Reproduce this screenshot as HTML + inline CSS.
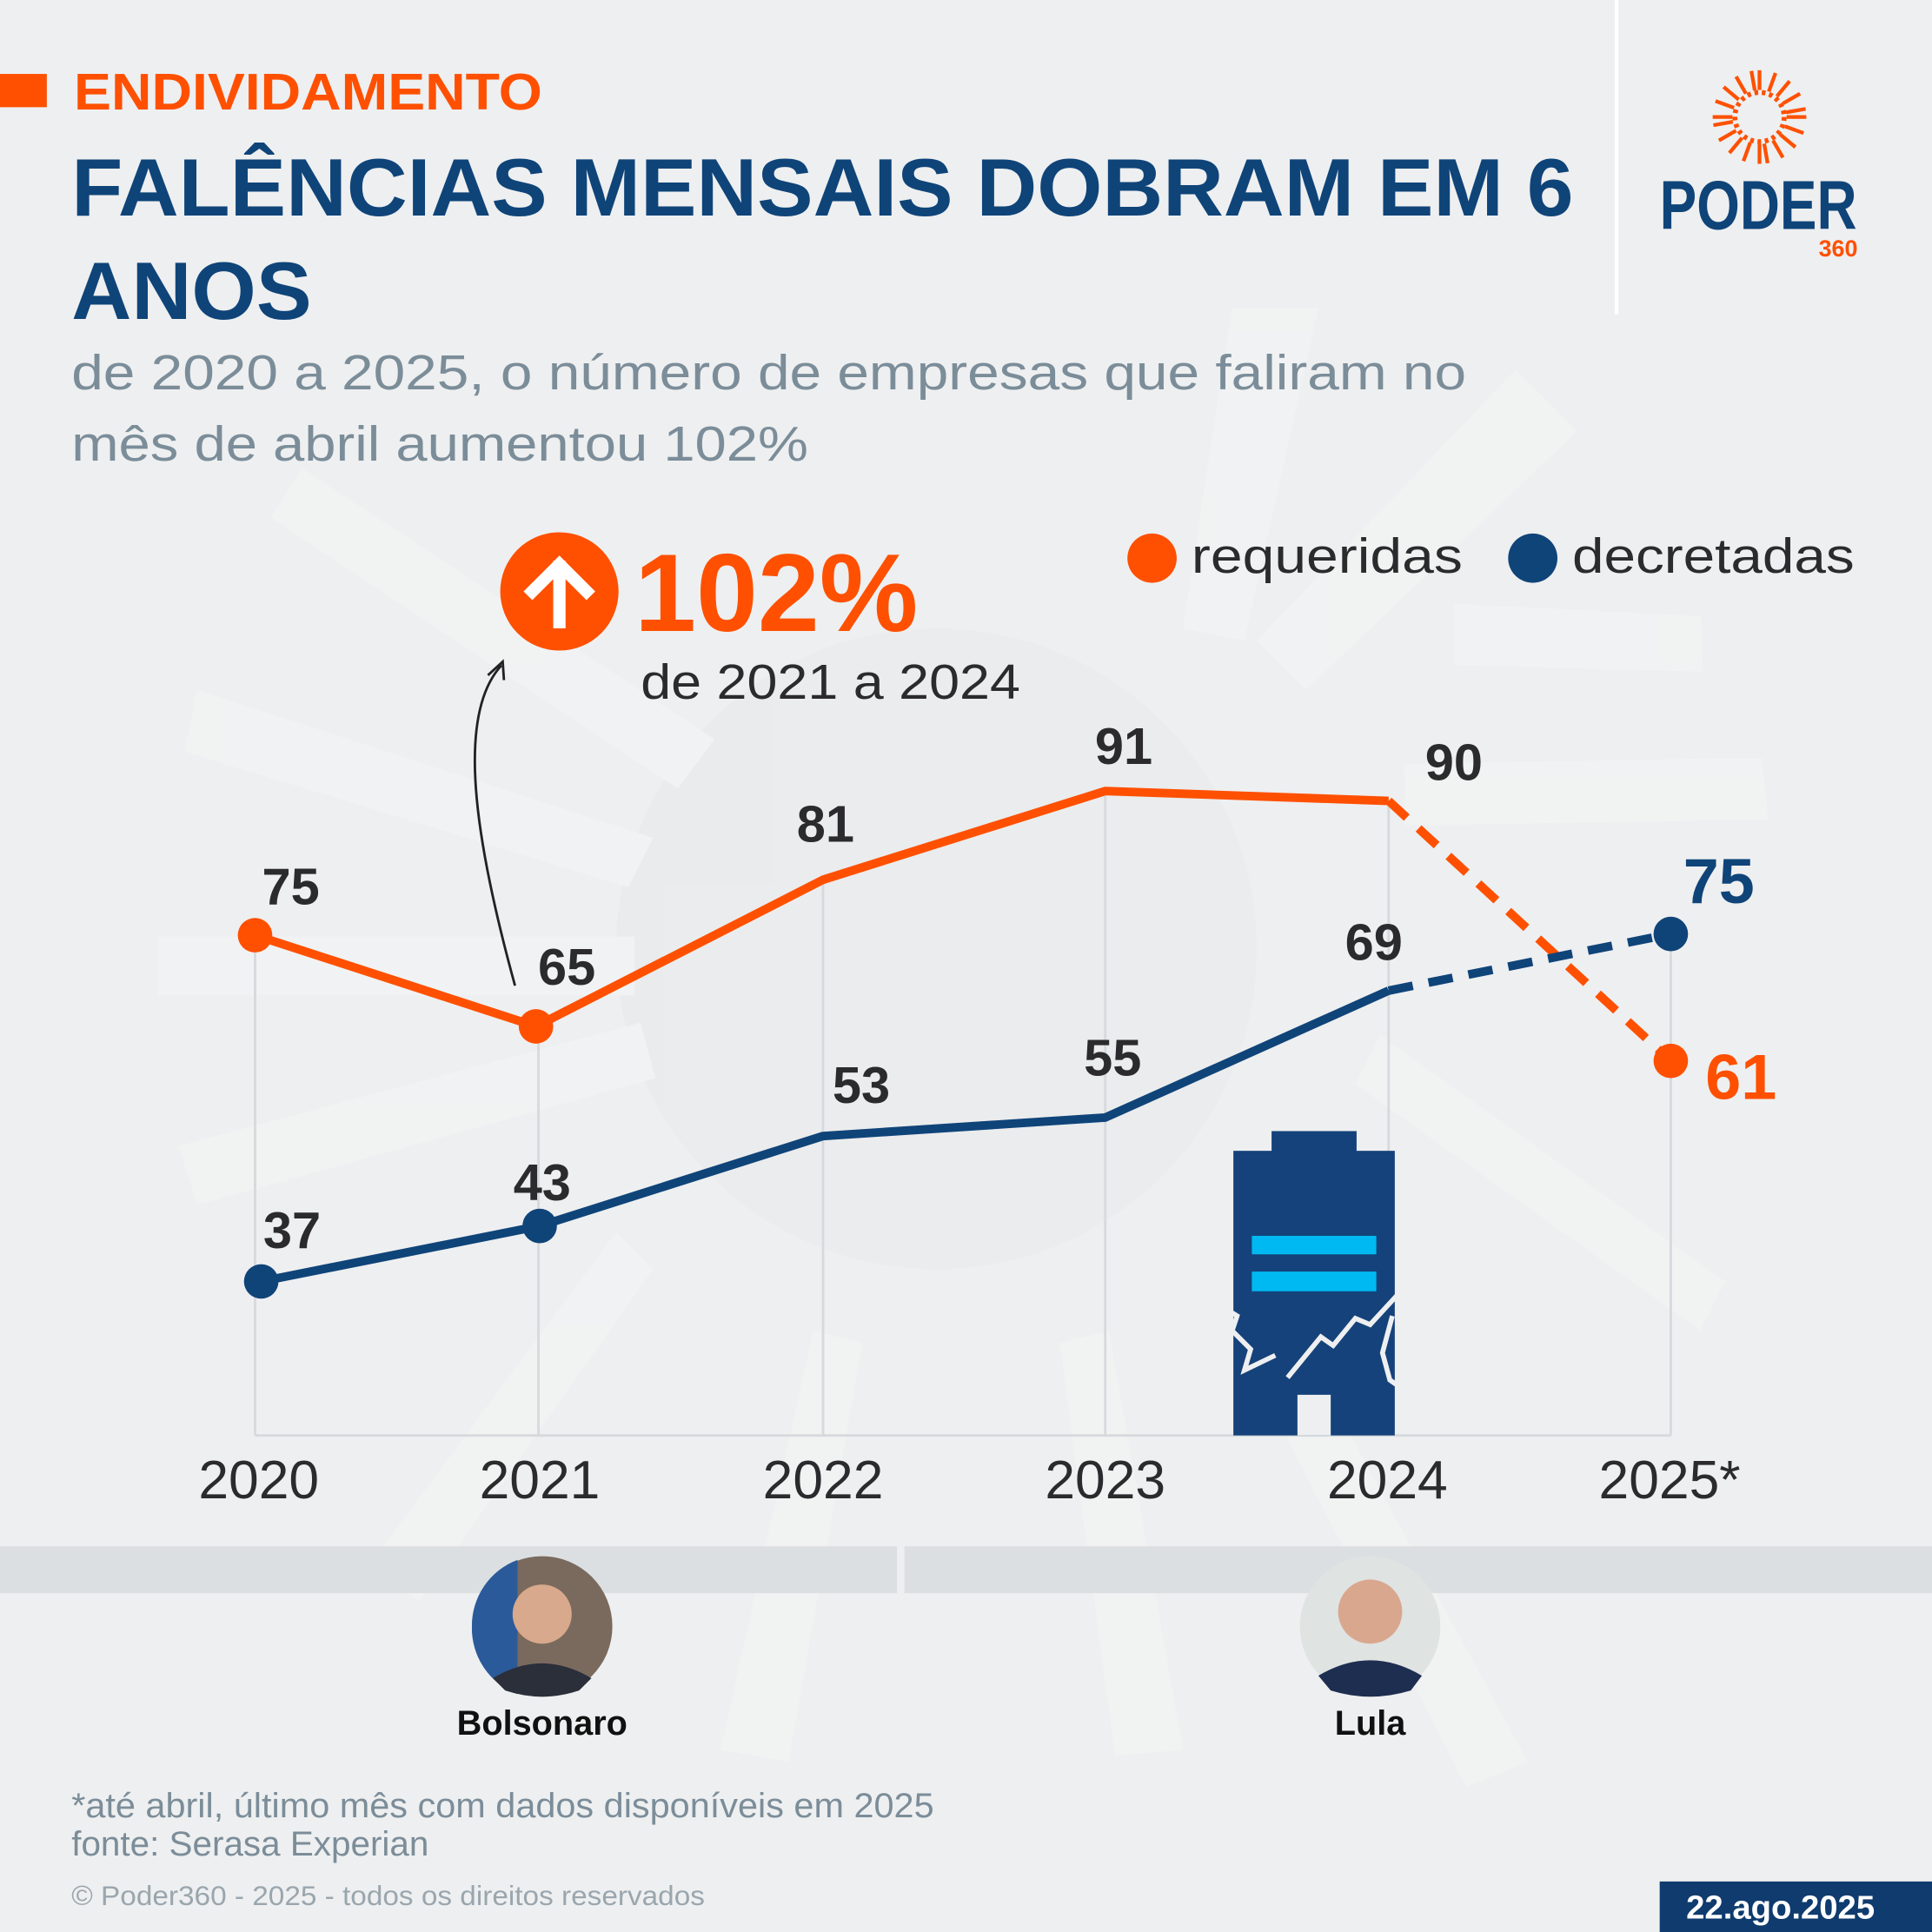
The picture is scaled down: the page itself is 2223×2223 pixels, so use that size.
<!DOCTYPE html>
<html><head><meta charset="utf-8"><style>
html,body{margin:0;padding:0;background:#eeeff0;}
svg{display:block;}
text{font-family:"Liberation Sans",sans-serif;}
</style></head><body>
<svg width="2223" height="2223" viewBox="0 0 1568 1568" xmlns="http://www.w3.org/2000/svg">
<rect width="1568" height="1568" fill="#eeeff0"/>
<g fill="#f4f5f5" opacity="0.6">
<circle cx="760" cy="770" r="260" fill="#e9eaeb"/>
<polygon points="160,560 530,680 510,720 150,610"/>
<polygon points="128,760 515,760 515,808 128,808"/>
<polygon points="145,930 520,830 532,875 160,978"/>
<polygon points="245,380 580,600 550,640 220,420"/>
<polygon points="1120,840 1400,1040 1380,1080 1100,880"/>
<polygon points="1050,1080 1240,1430 1190,1450 1010,1100"/>
<polygon points="900,1080 960,1420 905,1425 860,1090"/>
<polygon points="700,1090 640,1430 585,1420 660,1080"/>
<polygon points="530,1030 340,1300 300,1270 500,1000"/>
<polygon points="1180,490 1380,500 1382,545 1180,540"/>
<polygon points="1140,620 1430,615 1435,665 1140,670"/>
<polygon points="1000,250 1070,250 1010,520 960,510"/>
<polygon points="1230,300 1280,350 1060,560 1020,520"/>
</g>
<line x1="1312" y1="0" x2="1312" y2="255" stroke="#ffffff" stroke-width="3"/>
<rect x="0" y="60" width="38" height="27" fill="#fe5000"/>
<text x="60" y="89" font-size="42" font-weight="bold" fill="#fe5000" textLength="380" lengthAdjust="spacingAndGlyphs">ENDIVIDAMENTO</text>
<text x="58" y="175" font-size="66" font-weight="bold" fill="#0f4479" textLength="1219" lengthAdjust="spacingAndGlyphs">FALÊNCIAS MENSAIS DOBRAM EM 6</text>
<text x="58" y="259" font-size="66" font-weight="bold" fill="#0f4479" textLength="195" lengthAdjust="spacingAndGlyphs">ANOS</text>
<text x="58" y="316" font-size="40" fill="#7b8d99" textLength="1132" lengthAdjust="spacingAndGlyphs">de 2020 a 2025, o número de empresas que faliram no</text>
<text x="58" y="374" font-size="40" fill="#7b8d99" textLength="598" lengthAdjust="spacingAndGlyphs">mês de abril aumentou 102%</text>
<g transform="translate(1428,95)" stroke="#fe5000" stroke-width="3">
<circle r="20" fill="none" stroke-width="4" stroke-dasharray="3 3"/>
<g id="rays"><line x1="22" y1="0" x2="38" y2="0"/><line x1="0" y1="22" x2="0" y2="38"/><line x1="-22" y1="0" x2="-38" y2="0"/><line x1="0" y1="-22" x2="0" y2="-38"/></g>
<use href="#rays" transform="rotate(20)"/><use href="#rays" transform="rotate(40)"/><use href="#rays" transform="rotate(60)"/><use href="#rays" transform="rotate(80)"/>
</g>
<text x="1347" y="186" font-size="56" font-weight="bold" fill="#0f4479" textLength="160" lengthAdjust="spacingAndGlyphs">PODER</text>
<text x="1476" y="208" font-size="19" font-weight="bold" fill="#fe5000">360</text>
<circle cx="935" cy="453" r="20" fill="#fe5000"/>
<text x="967" y="465" font-size="40" fill="#2b2b2e" textLength="220" lengthAdjust="spacingAndGlyphs">requeridas</text>
<circle cx="1244" cy="453" r="20" fill="#0f4479"/>
<text x="1276" y="465" font-size="40" fill="#2b2b2e" textLength="229" lengthAdjust="spacingAndGlyphs">decretadas</text>
<circle cx="454" cy="480" r="48" fill="#fe5000"/>
<path d="M454 505 V460 M432 480 L454 458 L476 480" stroke="#fff" stroke-width="10" fill="none" stroke-linecap="square"/>
<text x="515" y="512" font-size="90" font-weight="bold" fill="#fe5000" textLength="230" lengthAdjust="spacingAndGlyphs">102%</text>
<text x="520" y="567" font-size="40" fill="#2b2b2e" textLength="308" lengthAdjust="spacingAndGlyphs">de 2021 a 2024</text>
<path d="M418 800 C385 680 370 580 407 540" stroke="#222" stroke-width="2" fill="none"/>
<path d="M396 548 L408 537 L409 552" stroke="#222" stroke-width="2" fill="none"/>
<g stroke="#d6dadd" stroke-width="2">
<line x1="207" y1="759" x2="207" y2="1165"/><line x1="437" y1="833" x2="437" y2="1165"/>
<line x1="668" y1="714" x2="668" y2="1165"/><line x1="897" y1="642" x2="897" y2="1165"/>
<line x1="1127" y1="650" x2="1127" y2="1165"/><line x1="1356" y1="758" x2="1356" y2="1165"/>
<line x1="207" y1="1165" x2="1356" y2="1165"/>
</g>
<rect x="1032" y="918" width="69" height="20" fill="#15427a"/>
<rect x="1001" y="934" width="131" height="231" fill="#15427a"/>
<rect x="1053" y="1132" width="27" height="33" fill="#eeeff0"/>
<rect x="1016" y="1003" width="101" height="15" fill="#00b9f2"/>
<rect x="1016" y="1032" width="101" height="16" fill="#00b9f2"/>
<path d="M988 1058 L1004 1068 L1000 1080 L1015 1095 L1010 1112 L1035 1100 M1045 1118 L1072 1085 L1082 1092 L1100 1070 L1112 1075 L1135 1050 L1150 1048 M1130 1068 L1122 1098 L1128 1120 L1145 1132" stroke="#eeeff0" stroke-width="4" fill="none"/>
<polyline points="207,759 435,833 668,714 897,642 1127,650" fill="none" stroke="#fe5000" stroke-width="7" stroke-linejoin="round"/>
<polyline points="1127,650 1356,861" fill="none" stroke="#fe5000" stroke-width="7" stroke-dasharray="20 13"/>
<polyline points="212,1040 438,995 668,922 897,907 1127,804" fill="none" stroke="#0f4479" stroke-width="7" stroke-linejoin="round"/>
<polyline points="1127,804 1356,758" fill="none" stroke="#0f4479" stroke-width="7" stroke-dasharray="20 13"/>
<g fill="#fe5000"><circle cx="207" cy="759" r="14"/><circle cx="435" cy="833" r="14"/><circle cx="1356" cy="861" r="14"/></g>
<g fill="#0f4479"><circle cx="212" cy="1040" r="14"/><circle cx="438" cy="995" r="14"/><circle cx="1356" cy="758" r="14"/></g>
<g font-size="42" font-weight="bold" fill="#2b2b2e" text-anchor="middle">
<text x="236" y="734">75</text><text x="460" y="799">65</text><text x="670" y="683">81</text>
<text x="912" y="620">91</text><text x="1180" y="633">90</text>
<text x="237" y="1013">37</text><text x="440" y="974">43</text><text x="699" y="895">53</text>
<text x="903" y="873">55</text><text x="1115" y="779">69</text>
</g>
<text x="1395" y="733" font-size="52" font-weight="bold" fill="#0f4479" text-anchor="middle">75</text>
<text x="1413" y="892" font-size="52" font-weight="bold" fill="#fe5000" text-anchor="middle">61</text>
<g font-size="44" fill="#2b2b2e" text-anchor="middle">
<text x="210" y="1216">2020</text><text x="438" y="1216">2021</text><text x="668" y="1216">2022</text>
<text x="897" y="1216">2023</text><text x="1126" y="1216">2024</text><text x="1355" y="1216">2025*</text>
</g>
<rect x="0" y="1255" width="728" height="38" fill="#dcdfe2"/>
<rect x="734" y="1255" width="834" height="38" fill="#dcdfe2"/>
<circle cx="440" cy="1320" r="57" fill="#7a6a5e"/>
<path d="M383 1320 A57 57 0 0 1 420 1266 L420 1375 A57 57 0 0 1 383 1320Z" fill="#2a5a9a"/>
<circle cx="440" cy="1310" r="24" fill="#d8a98c"/>
<path d="M400 1362 Q440 1338 480 1362 L470 1372 Q440 1382 410 1372Z" fill="#2b2f3a"/>
<circle cx="1112" cy="1320" r="57" fill="#dfe3e2"/>
<circle cx="1112" cy="1308" r="26" fill="#d9a78e"/>
<path d="M1070 1360 Q1112 1335 1154 1360 L1145 1372 Q1112 1382 1080 1372Z" fill="#1e2e50"/>
<text x="440" y="1408" font-size="28" font-weight="bold" fill="#111" text-anchor="middle">Bolsonaro</text>
<text x="1112" y="1408" font-size="28" font-weight="bold" fill="#111" text-anchor="middle">Lula</text>
<text x="58" y="1475" font-size="28" fill="#7b8d99" textLength="700" lengthAdjust="spacingAndGlyphs">*até abril, último mês com dados disponíveis em 2025</text>
<text x="58" y="1506" font-size="28" fill="#7b8d99" textLength="290" lengthAdjust="spacingAndGlyphs">fonte: Serasa Experian</text>
<text x="58" y="1546" font-size="22" fill="#9aa6ae" textLength="514" lengthAdjust="spacingAndGlyphs">© Poder360 - 2025 - todos os direitos reservados</text>
<rect x="1347" y="1527" width="221" height="41" fill="#0f3b6e"/>
<text x="1445" y="1557" font-size="27" font-weight="bold" fill="#fff" text-anchor="middle">22.ago.2025</text>
</svg>
</body></html>
